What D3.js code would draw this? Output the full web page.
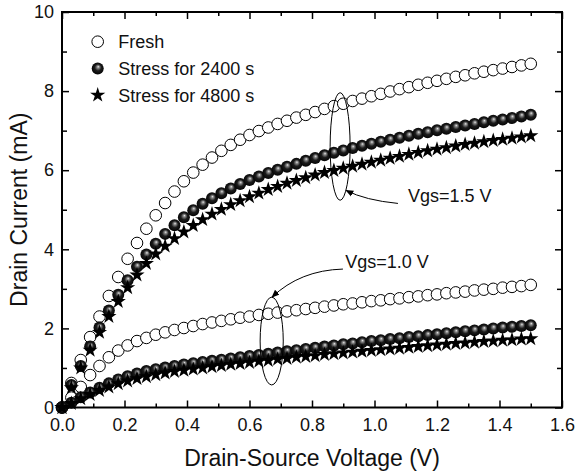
<!DOCTYPE html>
<html lang="en">
<head>
  <meta charset="UTF-8" />
  <title>Drain current vs drain-source voltage</title>
  <style>
    html, body {
      margin: 0;
      padding: 0;
      background: #fff;
    }
    svg {
      display: block;
      font-family: "Liberation Sans", Arial, sans-serif;
    }
    .tick text {
      font-size: 18px;
      fill: #111;
    }
  </style>
</head>
<body>

<svg id="chart" width="581" height="475"></svg>

<script src="https://d3js.org/d3.v7.min.js"></script>
<script>
  // drain-source sweep (V)
  const vds = [0, 0.03, 0.06, 0.09, 0.12, 0.15, 0.18, 0.21, 0.24, 0.27,
    0.30, 0.33, 0.36, 0.39, 0.42, 0.45, 0.48, 0.51, 0.54, 0.57,
    0.60, 0.63, 0.66, 0.69, 0.72, 0.75, 0.78, 0.81, 0.84, 0.87,
    0.90, 0.93, 0.96, 0.99, 1.02, 1.05, 1.08, 1.11, 1.14, 1.17,
    1.20, 1.23, 1.26, 1.29, 1.32, 1.35, 1.38, 1.41, 1.44, 1.47, 1.50];

  // Vgs = 1.5 V (mA)
  const fresh15 = [0, 0.62, 1.2, 1.78, 2.3, 2.82, 3.3, 3.76, 4.16, 4.52,
    4.86, 5.17, 5.46, 5.72, 5.94, 6.14, 6.32, 6.49, 6.64, 6.77,
    6.89, 6.99, 7.08, 7.17, 7.25, 7.33, 7.40, 7.47, 7.55, 7.62,
    7.68, 7.75, 7.81, 7.87, 7.93, 7.99, 8.05, 8.10, 8.16, 8.21,
    8.26, 8.31, 8.36, 8.40, 8.45, 8.49, 8.53, 8.57, 8.61, 8.65, 8.69];
  const s2400_15 = [0, 0.57, 1.05, 1.54, 2.02, 2.45, 2.85, 3.22, 3.56, 3.87,
    4.14, 4.39, 4.61, 4.81, 4.99, 5.15, 5.29, 5.42, 5.54, 5.65,
    5.75, 5.84, 5.93, 6.01, 6.09, 6.16, 6.24, 6.31, 6.38, 6.44,
    6.50, 6.56, 6.62, 6.67, 6.72, 6.77, 6.82, 6.87, 6.92, 6.96,
    7.01, 7.05, 7.09, 7.13, 7.17, 7.21, 7.25, 7.28, 7.32, 7.36, 7.40];
  const s4800_15 = [0, 0.5, 1.0, 1.45, 1.9, 2.3, 2.68, 3.03, 3.35, 3.64,
    3.88, 4.08, 4.27, 4.44, 4.60, 4.75, 4.89, 5.01, 5.13, 5.23,
    5.33, 5.42, 5.51, 5.59, 5.67, 5.74, 5.81, 5.88, 5.94, 5.99,
    6.05, 6.10, 6.15, 6.20, 6.25, 6.30, 6.35, 6.40, 6.45, 6.49,
    6.53, 6.57, 6.61, 6.65, 6.68, 6.72, 6.75, 6.78, 6.81, 6.84, 6.87];

  // Vgs = 1.0 V (mA)
  const fresh10 = [0, 0.25, 0.52, 0.82, 1.05, 1.27, 1.44, 1.57, 1.68, 1.76,
    1.84, 1.90, 1.96, 2.01, 2.06, 2.11, 2.15, 2.19, 2.23, 2.27,
    2.30, 2.34, 2.37, 2.40, 2.43, 2.46, 2.49, 2.52, 2.55, 2.58,
    2.61, 2.63, 2.66, 2.69, 2.71, 2.74, 2.76, 2.79, 2.81, 2.84,
    2.86, 2.89, 2.91, 2.93, 2.96, 2.98, 3.00, 3.03, 3.05, 3.07, 3.10];
  const s2400_10 = [0, 0.12, 0.26, 0.38, 0.5, 0.61, 0.71, 0.79, 0.86, 0.92,
    0.97, 1.01, 1.05, 1.09, 1.12, 1.15, 1.18, 1.21, 1.24, 1.27,
    1.30, 1.33, 1.36, 1.39, 1.42, 1.45, 1.48, 1.51, 1.54, 1.57,
    1.60, 1.62, 1.65, 1.68, 1.70, 1.73, 1.75, 1.78, 1.80, 1.83,
    1.85, 1.88, 1.90, 1.93, 1.95, 1.97, 2.00, 2.02, 2.04, 2.06, 2.08];
  const s4800_10 = [0, 0.1, 0.22, 0.33, 0.43, 0.52, 0.6, 0.67, 0.73, 0.78,
    0.83, 0.87, 0.91, 0.94, 0.97, 1.0, 1.03, 1.06, 1.09, 1.11,
    1.14, 1.17, 1.19, 1.22, 1.24, 1.27, 1.29, 1.31, 1.34, 1.36,
    1.38, 1.40, 1.42, 1.44, 1.46, 1.48, 1.50, 1.52, 1.54, 1.56,
    1.58, 1.60, 1.62, 1.63, 1.65, 1.67, 1.68, 1.70, 1.71, 1.73, 1.74];

  const xMajor = [0, 0.2, 0.4, 0.6, 0.8, 1.0, 1.2, 1.4, 1.6];
  const xMinor = [0.1, 0.3, 0.5, 0.7, 0.9, 1.1, 1.3, 1.5];
  const yMajor = [0, 2, 4, 6, 8, 10];
  const yMinor = [1, 3, 5, 7, 9];

  const legendLabels = ["Fresh", "Stress for 2400 s", "Stress for 4800 s"];
  const legendKinds = ["open", "sphere", "star"];

  const width = 581, height = 475;
  const margin = { top: 12, right: 19, bottom: 67.5, left: 62 };

  const svg = d3.select("#chart");

  const x = d3.scaleLinear().domain([0, 1.6]).range([margin.left, width - margin.right]);
  const y = d3.scaleLinear().domain([0, 10]).range([height - margin.bottom, margin.top]);

  // shaded ball look for the stressed (2400 s) markers
  const defs = svg.append("defs");
  const grad = defs.append("radialGradient")
    .attr("id", "sphere")
    .attr("cx", "50%").attr("cy", "50%").attr("r", "55%")
    .attr("fx", "55%").attr("fy", "35%");
  grad.append("stop").attr("offset", "0%").attr("stop-color", "#e8e8e8");
  grad.append("stop").attr("offset", "18%").attr("stop-color", "#8a8a8a");
  grad.append("stop").attr("offset", "50%").attr("stop-color", "#1c1c1c");
  grad.append("stop").attr("offset", "100%").attr("stop-color", "#000");

  defs.append("marker")
    .attr("id", "arrow")
    .attr("viewBox", "0 0 10 10")
    .attr("refX", 9).attr("refY", 5)
    .attr("markerWidth", 8).attr("markerHeight", 8)
    .attr("markerUnits", "userSpaceOnUse")
    .attr("orient", "auto-start-reverse")
    .append("path")
    .attr("d", "M0,1 L10,5 L0,9 Z")
    .attr("fill", "#000");

  const starPath = d3.symbol().type(d3.symbolStar).size(72)();

  function drawMarker(sel, kind) {
    if (kind === "open") {
      sel.append("circle").attr("r", 5.8).attr("fill", "#fff")
        .attr("stroke", "#000").attr("stroke-width", 1);
    } else if (kind === "sphere") {
      sel.append("circle").attr("r", 6).attr("fill", "url(#sphere)");
    } else {
      sel.append("path").attr("d", starPath).attr("fill", "#000");
    }
  }

  function drawSeries(values, kind) {
    const pts = vds.map((v, i) => [v, values[i]]);
    svg.append("g")
      .selectAll("g")
      .data(pts)
      .join("g")
      .attr("transform", d => `translate(${x(d[0])},${y(d[1])})`)
      .each(function() { drawMarker(d3.select(this), kind); });
  }

  // markers (legend order so stars sit on top)
  drawSeries(fresh15, "open");
  drawSeries(fresh10, "open");
  drawSeries(s2400_15, "sphere");
  drawSeries(s2400_10, "sphere");
  drawSeries(s4800_15, "star");
  drawSeries(s4800_10, "star");

  // axes: ticks point inward on all four sides
  const bottom = height - margin.bottom, right = width - margin.right;

  svg.append("g")
    .attr("transform", `translate(0,${bottom})`)
    .call(d3.axisBottom(x).tickValues(xMajor).tickSize(-7).tickPadding(10.5).tickFormat(d3.format(".1f")));
  svg.append("g")
    .attr("transform", `translate(0,${bottom})`)
    .call(d3.axisBottom(x).tickValues(xMinor).tickSize(-4).tickFormat(""));
  svg.append("g")
    .attr("transform", `translate(0,${margin.top})`)
    .call(d3.axisTop(x).tickValues(xMajor).tickSize(-7).tickFormat(""));
  svg.append("g")
    .attr("transform", `translate(0,${margin.top})`)
    .call(d3.axisTop(x).tickValues(xMinor).tickSize(-4).tickFormat(""));

  svg.append("g")
    .attr("transform", `translate(${margin.left},0)`)
    .call(d3.axisLeft(y).tickValues(yMajor).tickSize(-7).tickPadding(8).tickFormat(d3.format("d")));
  svg.append("g")
    .attr("transform", `translate(${margin.left},0)`)
    .call(d3.axisLeft(y).tickValues(yMinor).tickSize(-5).tickFormat(""));
  svg.append("g")
    .attr("transform", `translate(${right},0)`)
    .call(d3.axisRight(y).tickValues(yMajor).tickSize(-7).tickFormat(""));
  svg.append("g")
    .attr("transform", `translate(${right},0)`)
    .call(d3.axisRight(y).tickValues(yMinor).tickSize(-5).tickFormat(""));

  svg.selectAll(".domain").remove();
  svg.selectAll(".tick line").attr("stroke", "#000").attr("stroke-width", 1.5);

  svg.append("rect")
    .attr("x", margin.left).attr("y", margin.top)
    .attr("width", right - margin.left).attr("height", bottom - margin.top)
    .attr("fill", "none").attr("stroke", "#000").attr("stroke-width", 2);

  // axis titles
  svg.append("text")
    .attr("x", (margin.left + right) / 2).attr("y", 466)
    .attr("text-anchor", "middle")
    .attr("font-size", 23).attr("fill", "#111")
    .text("Drain-Source Voltage (V)");
  svg.append("text")
    .attr("transform", `translate(27,${(margin.top + bottom) / 2}) rotate(-90)`)
    .attr("text-anchor", "middle")
    .attr("font-size", 23).attr("fill", "#111")
    .text("Drain Current (mA)");

  // legend
  const legend = svg.append("g");
  legendLabels.forEach((label, i) => {
    const item = legend.append("g")
      .attr("transform", `translate(97.7,${41.7 + i * 26.7})`);
    drawMarker(item, legendKinds[i]);
    item.append("text")
      .attr("x", 20.5).attr("y", 6.5)
      .attr("font-size", 18).attr("fill", "#111")
      .text(label);
  });

  // Vgs annotations
  svg.append("ellipse")
    .attr("cx", x(0.89)).attr("cy", y(6.6))
    .attr("rx", x(0.032) - x(0)).attr("ry", y(0) - y(1.36))
    .attr("fill", "none").attr("stroke", "#000").attr("stroke-width", 1);
  svg.append("ellipse")
    .attr("cx", x(0.671)).attr("cy", y(1.68))
    .attr("rx", x(0.037) - x(0)).attr("ry", y(0) - y(1.11))
    .attr("fill", "none").attr("stroke", "#000").attr("stroke-width", 1);

  svg.append("path")
    .attr("d", `M${x(0.909)},${y(5.49)} Q${x(0.97)},${y(5.24)} ${x(1.075)},${y(5.16)}`)
    .attr("fill", "none").attr("stroke", "#000").attr("stroke-width", 1)
    .attr("marker-start", "url(#arrow)");
  svg.append("path")
    .attr("d", `M${x(0.899)},${y(3.5)} Q${x(0.762)},${y(3.47)} ${x(0.672)},${y(2.79)}`)
    .attr("fill", "none").attr("stroke", "#000").attr("stroke-width", 1)
    .attr("marker-end", "url(#arrow)");

  svg.append("text")
    .attr("x", x(1.107)).attr("y", y(5.19))
    .attr("font-size", 18).attr("fill", "#111")
    .text("Vgs=1.5 V");
  svg.append("text")
    .attr("x", x(0.906)).attr("y", y(3.52))
    .attr("font-size", 18).attr("fill", "#111")
    .text("Vgs=1.0 V");
</script>

</body>
</html>
